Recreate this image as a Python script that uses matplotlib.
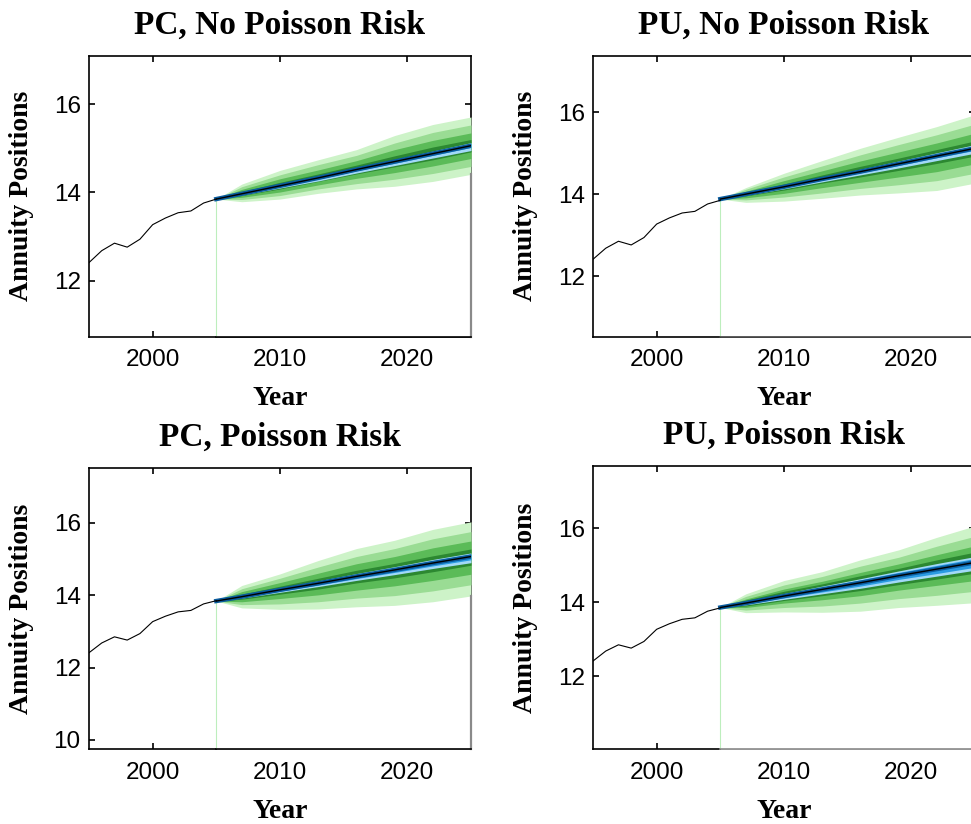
import numpy as np
import matplotlib
matplotlib.use("Agg")
import matplotlib.pyplot as plt

# history (annual)
hist_years = [1995, 1996, 1997, 1998, 1999, 2000, 2001, 2002, 2003, 2004, 2005]
hist_vals = [12.41, 12.68, 12.85, 12.76, 12.94, 13.27, 13.42, 13.54, 13.58, 13.76, 13.85]

# forecast grid
fc_years = [2005, 2007, 2010, 2013, 2016, 2019, 2022, 2025]

# PC, No Poisson Risk
pcn_med = [13.85, 13.97, 14.15, 14.33, 14.52, 14.70, 14.88, 15.06]
pcn_p95 = [13.85, 14.19, 14.50, 14.74, 14.97, 15.29, 15.54, 15.71]
pcn_p05 = [13.85, 13.79, 13.85, 13.98, 14.08, 14.14, 14.25, 14.41]
pcn_p90 = [13.85, 14.13, 14.40, 14.63, 14.84, 15.12, 15.36, 15.53]
pcn_p10 = [13.85, 13.84, 13.93, 14.08, 14.20, 14.30, 14.43, 14.59]
pcn_p80 = [13.85, 14.07, 14.31, 14.51, 14.72, 14.97, 15.18, 15.35]
pcn_p20 = [13.85, 13.89, 14.01, 14.17, 14.32, 14.45, 14.60, 14.77]
pcn_p65 = [13.85, 14.02, 14.23, 14.42, 14.62, 14.83, 15.03, 15.20]
pcn_p35 = [13.85, 13.93, 14.08, 14.25, 14.42, 14.58, 14.74, 14.92]
pcn_lbh = [13.85, 13.99, 14.18, 14.37, 14.57, 14.75, 14.94, 15.13]
pcn_lbl = [13.85, 13.94, 14.10, 14.26, 14.44, 14.61, 14.78, 14.95]
pcn_sbh = [13.85, 13.98, 14.17, 14.36, 14.55, 14.74, 14.92, 15.11]
pcn_sbl = [13.85, 13.96, 14.13, 14.30, 14.49, 14.66, 14.84, 15.02]

# PU, No Poisson Risk
pun_med = [13.88, 14.00, 14.18, 14.37, 14.55, 14.74, 14.93, 15.12]
pun_p95 = [13.88, 14.16, 14.51, 14.82, 15.12, 15.39, 15.65, 15.94]
pun_p05 = [13.88, 13.80, 13.83, 13.90, 13.98, 14.03, 14.09, 14.27]
pun_p90 = [13.88, 14.12, 14.42, 14.69, 14.96, 15.21, 15.45, 15.71]
pun_p10 = [13.88, 13.86, 13.93, 14.03, 14.14, 14.23, 14.33, 14.51]
pun_p80 = [13.88, 14.07, 14.33, 14.57, 14.81, 15.03, 15.25, 15.49]
pun_p20 = [13.88, 13.91, 14.02, 14.16, 14.29, 14.42, 14.55, 14.74]
pun_p65 = [13.88, 14.04, 14.25, 14.47, 14.68, 14.88, 15.09, 15.30]
pun_p35 = [13.88, 13.96, 14.10, 14.27, 14.42, 14.58, 14.75, 14.93]
pun_lbh = [13.88, 14.02, 14.22, 14.42, 14.61, 14.81, 15.01, 15.21]
pun_lbl = [13.88, 13.97, 14.13, 14.30, 14.47, 14.64, 14.82, 15.00]
pun_sbh = [13.88, 14.01, 14.20, 14.40, 14.59, 14.79, 14.98, 15.18]
pun_sbl = [13.88, 13.99, 14.16, 14.34, 14.52, 14.70, 14.89, 15.07]

# PC, Poisson Risk
pcp_med = [13.84, 13.96, 14.15, 14.33, 14.52, 14.70, 14.89, 15.07]
pcp_p95 = [13.84, 14.27, 14.59, 14.96, 15.29, 15.52, 15.82, 16.03]
pcp_p05 = [13.84, 13.65, 13.61, 13.62, 13.68, 13.72, 13.82, 13.98]
pcp_p90 = [13.84, 14.18, 14.47, 14.78, 15.07, 15.29, 15.56, 15.76]
pcp_p10 = [13.84, 13.74, 13.76, 13.82, 13.92, 13.99, 14.12, 14.29]
pcp_p80 = [13.84, 14.10, 14.35, 14.61, 14.87, 15.07, 15.31, 15.50]
pcp_p20 = [13.84, 13.82, 13.91, 14.01, 14.14, 14.26, 14.41, 14.58]
pcp_p65 = [13.84, 14.03, 14.25, 14.47, 14.69, 14.88, 15.09, 15.28]
pcp_p35 = [13.84, 13.89, 14.03, 14.17, 14.34, 14.48, 14.65, 14.83]
pcp_lbh = [13.84, 13.99, 14.20, 14.40, 14.60, 14.79, 14.99, 15.17]
pcp_lbl = [13.84, 13.92, 14.08, 14.24, 14.41, 14.57, 14.74, 14.90]
pcp_sbh = [13.84, 13.98, 14.18, 14.37, 14.57, 14.76, 14.96, 15.14]
pcp_sbl = [13.84, 13.94, 14.11, 14.28, 14.46, 14.63, 14.81, 14.98]

# PU, Poisson Risk
pup_med = [13.86, 13.98, 14.17, 14.35, 14.53, 14.72, 14.90, 15.08]
pup_p95 = [13.86, 14.23, 14.59, 14.83, 15.15, 15.42, 15.76, 16.07]
pup_p05 = [13.86, 13.72, 13.74, 13.73, 13.76, 13.86, 13.92, 13.99]
pup_p90 = [13.86, 14.16, 14.47, 14.70, 14.98, 15.22, 15.52, 15.79]
pup_p10 = [13.86, 13.79, 13.86, 13.90, 13.98, 14.10, 14.19, 14.30]
pup_p80 = [13.86, 14.09, 14.36, 14.57, 14.81, 15.04, 15.29, 15.53]
pup_p20 = [13.86, 13.86, 13.98, 14.07, 14.18, 14.33, 14.46, 14.59]
pup_p65 = [13.86, 14.06, 14.30, 14.50, 14.72, 14.92, 15.15, 15.36]
pup_p35 = [13.86, 13.90, 14.05, 14.18, 14.32, 14.48, 14.63, 14.79]
pup_lbh = [13.86, 14.02, 14.24, 14.44, 14.64, 14.85, 15.05, 15.24]
pup_lbl = [13.86, 13.93, 14.08, 14.23, 14.38, 14.55, 14.71, 14.87]
pup_sbh = [13.86, 14.01, 14.22, 14.41, 14.61, 14.81, 15.00, 15.19]
pup_sbl = [13.86, 13.95, 14.12, 14.28, 14.44, 14.62, 14.78, 14.95]

titles = ["PC, No Poisson Risk", "PU, No Poisson Risk", "PC, Poisson Risk", "PU, Poisson Risk"]
ylims = [(10.73, 17.1), (10.52, 17.38), (9.74, 17.51), (10.02, 17.70)]
yticks = [[12, 14, 16], [12, 14, 16], [10, 12, 14, 16], [12, 14, 16]]
xticks = [2000, 2010, 2020]

panels = [
    (pcn_med, [(pcn_p05, pcn_p95), (pcn_p10, pcn_p90), (pcn_p20, pcn_p80), (pcn_p35, pcn_p65),
               (pcn_lbl, pcn_lbh), (pcn_sbl, pcn_sbh)]),
    (pun_med, [(pun_p05, pun_p95), (pun_p10, pun_p90), (pun_p20, pun_p80), (pun_p35, pun_p65),
               (pun_lbl, pun_lbh), (pun_sbl, pun_sbh)]),
    (pcp_med, [(pcp_p05, pcp_p95), (pcp_p10, pcp_p90), (pcp_p20, pcp_p80), (pcp_p35, pcp_p65),
               (pcp_lbl, pcp_lbh), (pcp_sbl, pcp_sbh)]),
    (pup_med, [(pup_p05, pup_p95), (pup_p10, pup_p90), (pup_p20, pup_p80), (pup_p35, pup_p65),
               (pup_lbl, pup_lbh), (pup_sbl, pup_sbh)]),
]
band_colors = ["#cdf3c8", "#9adc94", "#5bbb58", "#2c8831", "#a2d9f7", "#2b9be2"]
bottom_edge = ["black", "#404040", "black", "#8a8a8a"]

# axes boxes in pixels: left, top, width, height (fig 971x824)
W, H = 971, 824
boxes = [(89, 55.7, 382, 281), (593, 55.7, 382, 281),
         (89, 468.3, 382, 281), (593, 465.7, 382, 283.6)]

serif = "Liberation Serif"
sans = "Liberation Sans"

fig = plt.figure(figsize=(W / 100, H / 100), dpi=100)

for i, (med, bands) in enumerate(panels):
    l, t, w, h = boxes[i]
    ax = fig.add_axes([l / W, (H - t - h) / H, w / W, h / H])
    y0, y1 = ylims[i]
    lower = bands[0][0]

    # white area under the fan (hides the ticks like the original)
    ax.fill_between(fc_years, y0, lower, color="white", lw=0, zorder=2.6)
    ax.plot([2005, 2005], [y0, hist_vals[-1]], color="#bdeebd", lw=0.8, zorder=2.7)
    ax.plot([2025, 2025], [y0, lower[-1]], color="#8a8a8a", lw=1.6, zorder=2.7, clip_on=False)
    ax.plot([2005, 2025], [y0, y0], color=bottom_edge[i], lw=1.2, zorder=2.7, clip_on=False)

    for (lo, hi), c in zip(bands, band_colors):
        ax.fill_between(fc_years, lo, hi, color=c, lw=0, zorder=2.6)
    ax.plot(fc_years, med, color="#0a5c9e", lw=3.2, zorder=2.8)
    ax.plot(fc_years, med, color="black", lw=1.0, zorder=2.9)
    ax.plot(hist_years, hist_vals, color="black", lw=0.8, zorder=2.9)

    ax.set_xlim(1995, 2025)
    ax.set_ylim(y0, y1)
    ax.set_xticks(xticks)
    ax.set_yticks(yticks[i])
    ax.tick_params(direction="in", length=4, width=1.2, top=True, right=True,
                   labelsize=17.5)
    ax.tick_params(axis="x", pad=9)
    ax.tick_params(axis="y", pad=6)
    for lab in ax.get_xticklabels() + ax.get_yticklabels():
        lab.set_fontfamily(sans)
    for sp in ax.spines.values():
        sp.set_linewidth(1.2)

    ax.set_title(titles[i], fontsize=24, fontweight="bold", family=serif, pad=16)
    ax.set_xlabel("Year", fontsize=20, fontweight="bold", family=serif, labelpad=11)
    ax.set_ylabel("Annuity Positions", fontsize=20, fontweight="bold", family=serif, labelpad=14)

fig.savefig("out.png", dpi=100)
